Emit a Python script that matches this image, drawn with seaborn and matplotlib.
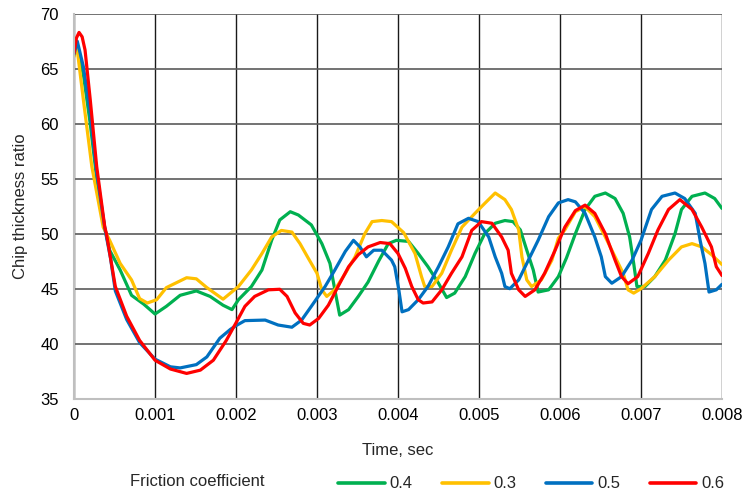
import numpy as np
import pandas as pd
import matplotlib
matplotlib.use("Agg")
import matplotlib.pyplot as plt
import seaborn as sns

# ---- data (time in ms, values = chip thickness ratio) ----
t_04 = [0, 0.04, 0.115, 0.2, 0.28, 0.38, 0.44, 0.57, 0.71, 0.86, 1.0, 1.14, 1.31, 1.51, 1.68, 1.84, 1.95,
        2.03, 2.19, 2.32, 2.44, 2.54, 2.67, 2.77, 2.85, 2.93, 3.06, 3.16, 3.22, 3.28, 3.39, 3.51, 3.63,
        3.76, 3.88, 3.98, 4.13, 4.25, 4.37, 4.50, 4.60, 4.70, 4.83, 4.95, 5.07, 5.20, 5.32, 5.42, 5.51,
        5.59, 5.67, 5.73, 5.86, 5.98, 6.08, 6.19, 6.31, 6.43, 6.56, 6.68, 6.78, 6.86, 6.91, 6.95, 7.05,
        7.17, 7.30, 7.42, 7.50, 7.63, 7.79, 7.91, 8.0]
v_04 = [66.2, 67.0, 64.5, 60.0, 55.0, 50.5, 48.5, 46.7, 44.4, 43.6, 42.7, 43.4, 44.4, 44.8, 44.3, 43.5, 43.1,
        44.0, 45.2, 46.7, 49.4, 51.25, 52.0, 51.7, 51.25, 50.8, 49.1, 47.3, 44.9, 42.6, 43.1, 44.3, 45.6,
        47.5, 49.1, 49.4, 49.3, 48.2, 47.0, 45.5, 44.2, 44.6, 46.1, 48.2, 50.0, 50.95, 51.2, 51.1, 50.35,
        48.5, 46.7, 44.7, 44.9, 46.1, 47.8, 50.0, 52.2, 53.4, 53.7, 53.2, 51.85, 49.7, 47.3, 45.2, 45.2,
        46.1, 47.6, 50.0, 52.2, 53.4, 53.7, 53.2, 52.3]

t_03 = [0, 0.03, 0.115, 0.22, 0.36, 0.44, 0.57, 0.71, 0.81, 0.905, 1.02, 1.14, 1.39, 1.51, 1.64, 1.84,
        2.03, 2.19, 2.32, 2.44, 2.56, 2.69, 2.79, 2.89, 3.0, 3.06, 3.12, 3.22, 3.35, 3.47, 3.59, 3.68,
        3.80, 3.92, 4.07, 4.21, 4.29, 4.33, 4.42, 4.54, 4.66, 4.79, 4.95, 5.07, 5.20, 5.32, 5.40, 5.49,
        5.53, 5.59, 5.65, 5.77, 5.90, 5.98, 6.06, 6.19, 6.31, 6.43, 6.56, 6.68, 6.78, 6.84, 6.91, 7.0,
        7.17, 7.34, 7.50, 7.63, 7.75, 7.87, 8.0]
v_03 = [66.1, 67.3, 62.2, 56.1, 50.6, 49.4, 47.3, 45.8, 44.1, 43.7, 44.0, 45.1, 46.0, 45.9, 45.1, 44.05,
        45.2, 46.7, 48.2, 49.7, 50.3, 50.15, 49.1, 47.8, 46.4, 44.9, 44.3, 44.9, 46.4, 47.9, 50.0, 51.1,
        51.2, 51.1, 50.1, 48.2, 46.1, 45.2, 45.2, 46.4, 48.5, 50.6, 51.85, 52.75, 53.7, 53.1, 52.2, 50.35,
        47.9, 45.8, 45.2, 45.8, 47.6, 49.6, 50.35, 52.0, 52.45, 51.55, 49.7, 47.9, 46.4, 44.9, 44.6, 45.0,
        46.1, 47.6, 48.8, 49.1, 48.8, 48.1, 47.2]

t_05 = [0, 0.04, 0.115, 0.2, 0.28, 0.38, 0.45, 0.51, 0.65, 0.81, 1.0, 1.19, 1.31, 1.51, 1.64, 1.80, 1.93,
        1.99, 2.11, 2.36, 2.52, 2.69, 2.81, 2.93, 3.10, 3.22, 3.35, 3.45, 3.53, 3.61, 3.70, 3.80, 3.92,
        3.96, 4.01, 4.05, 4.13, 4.25, 4.37, 4.50, 4.62, 4.74, 4.87, 4.99, 5.12, 5.20, 5.28, 5.32, 5.38,
        5.49, 5.61, 5.73, 5.86, 5.98, 6.10, 6.19, 6.31, 6.43, 6.51, 6.56, 6.64, 6.76, 6.89, 7.0, 7.13,
        7.26, 7.42, 7.54, 7.67, 7.73, 7.79, 7.84, 7.93, 8.0]
v_05 = [66.3, 67.5, 65.2, 61.0, 55.5, 50.5, 47.8, 44.8, 42.2, 40.1, 38.6, 37.9, 37.8, 38.1, 38.8, 40.5, 41.3,
        41.6, 42.1, 42.15, 41.7, 41.5, 42.15, 43.4, 45.2, 46.7, 48.4, 49.4, 48.8, 47.9, 48.5, 48.5, 47.6,
        47.0, 44.9, 42.9, 43.1, 44.0, 45.2, 47.0, 48.8, 50.9, 51.4, 51.1, 49.7, 47.9, 46.4, 45.2, 45.0,
        45.8, 47.6, 49.4, 51.55, 52.8, 53.1, 52.9, 51.85, 49.7, 47.9, 46.1, 45.5, 46.1, 47.6, 49.4, 52.2,
        53.4, 53.7, 53.2, 51.85, 49.4, 47.3, 44.7, 44.9, 45.4]

t_06 = [0, 0.03, 0.062, 0.10, 0.136, 0.2, 0.28, 0.38, 0.40, 0.51, 0.65, 0.81, 1.0, 1.19, 1.39, 1.56, 1.72,
        1.88, 2.0, 2.11, 2.23, 2.40, 2.54, 2.63, 2.73, 2.83, 2.91, 3.02, 3.14, 3.26, 3.39, 3.51, 3.63,
        3.78, 3.90, 4.0, 4.09, 4.17, 4.25, 4.31, 4.42, 4.54, 4.66, 4.79, 4.91, 5.03, 5.16, 5.28, 5.36,
        5.40, 5.49, 5.57, 5.69, 5.81, 5.94, 6.06, 6.19, 6.31, 6.43, 6.56, 6.68, 6.76, 6.84, 6.96, 7.09,
        7.21, 7.34, 7.48, 7.63, 7.75, 7.87, 7.93, 8.0]
v_06 = [66.4, 67.8, 68.3, 67.9, 66.7, 62.2, 56.1, 50.6, 50.0, 45.2, 42.5, 40.3, 38.5, 37.7, 37.3, 37.6, 38.5,
        40.3, 41.9, 43.4, 44.3, 44.9, 44.95, 44.3, 42.8, 41.85, 41.7, 42.3, 43.5, 45.2, 47.0, 48.1, 48.8,
        49.2, 49.1, 48.2, 46.85, 45.2, 44.0, 43.7, 43.8, 44.9, 46.4, 47.9, 50.3, 51.1, 50.95, 49.7, 48.5,
        46.4, 44.9, 44.3, 44.9, 46.4, 48.5, 50.6, 52.1, 52.6, 51.85, 50.0, 47.6, 46.1, 45.45, 46.1, 48.2,
        50.35, 52.2, 53.1, 52.2, 50.6, 48.8, 47.0, 46.2]

series_names = ["0.4", "0.3", "0.5", "0.6"]
series_colors = ["#00B050", "#FFC000", "#0070C0", "#FF0000"]
x_ticks = [0, 0.001, 0.002, 0.003, 0.004, 0.005, 0.006, 0.007, 0.008]
x_tick_labels = ["0", "0.001", "0.002", "0.003", "0.004", "0.005", "0.006", "0.007", "0.008"]
y_ticks = [35, 40, 45, 50, 55, 60, 65, 70]

frames = []
for name, t, v in zip(series_names, [t_04, t_03, t_05, t_06], [v_04, v_03, v_05, v_06]):
    frames.append(pd.DataFrame({"time": np.array(t) / 1000.0, "ratio": v, "mu": name}))
df = pd.concat(frames, ignore_index=True)

sns.set_style("white")
plt.rcParams["font.family"] = ["Liberation Sans", "DejaVu Sans"]
FS = 12

fig = plt.figure(figsize=(7.44, 4.95), dpi=100)
ax = fig.add_axes([0.0995, 0.1945, 0.8709, 0.7778])

sns.lineplot(data=df, x="time", y="ratio", hue="mu", hue_order=series_names,
             palette=dict(zip(series_names, series_colors)), sort=False, estimator=None,
             linewidth=2.3, ax=ax, legend=False)
for ln in ax.lines:
    ln.set_solid_joinstyle("round")
    ln.set_solid_capstyle("round")

ax.set_xlim(0, 0.008)
ax.set_ylim(35, 70)
ax.set_xticks(x_ticks)
ax.set_xticklabels(x_tick_labels)
ax.set_yticks(y_ticks)
ax.tick_params(axis="both", length=0, labelsize=FS, colors="#000000")
ax.tick_params(axis="x", pad=7)
ax.tick_params(axis="y", pad=11)

ax.xaxis.grid(True, color="#1a1a1a", linewidth=1.0)
ax.yaxis.grid(True, color="#5a5a5a", linewidth=1.2)
ax.set_axisbelow(True)
for side in ["top", "right"]:
    ax.spines[side].set_visible(False)
ax.spines["left"].set_color("#BFBFBF")
ax.spines["left"].set_linewidth(1.5)
ax.spines["bottom"].set_color("#BFBFBF")
ax.spines["bottom"].set_linewidth(1.5)

ax.set_xlabel("Time, sec", fontsize=FS, labelpad=14)
ax.set_ylabel("Chip thickness ratio", fontsize=FS, labelpad=9)

# legend
from matplotlib.lines import Line2D
handles = [Line2D([0], [0], color=c, lw=2.6) for c in series_colors]
fig.text(130 / 744, 1 - 482 / 495, "Friction coefficient", fontsize=FS, va="center", ha="left")
fig.legend(handles, series_names, loc="center left", bbox_to_anchor=(338 / 744, 1 - 484 / 495),
           ncol=4, frameon=False, fontsize=FS, handlelength=2.8, handletextpad=0.3,
           columnspacing=1.75, borderaxespad=0, borderpad=0)

fig.savefig("out.png", dpi=100)
